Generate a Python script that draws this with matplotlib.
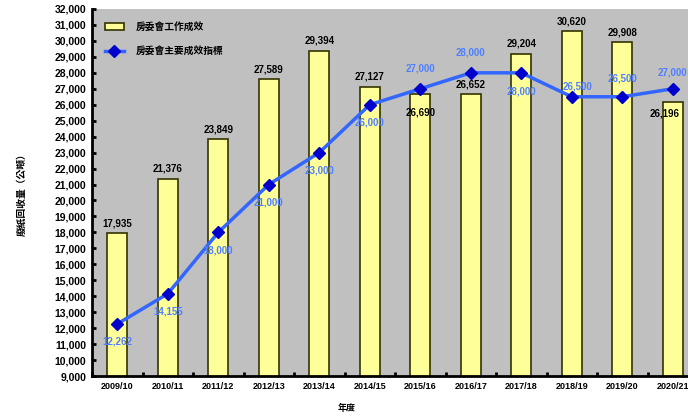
import numpy as np
import matplotlib.pyplot as plt
from matplotlib.ticker import FuncFormatter, MultipleLocator

plt.rcParams["font.family"] = ["Liberation Sans", "Noto Sans CJK TC", "DejaVu Sans"]
plt.rcParams["font.weight"] = "bold"

years = ["2009/10", "2010/11", "2011/12", "2012/13", "2013/14", "2014/15",
         "2015/16", "2016/17", "2017/18", "2018/19", "2019/20", "2020/21"]
actual = [17935, 21376, 23849, 27589, 29394, 27127, 26690, 26652, 29204, 30620, 29908, 26196]
target = [12262, 14155, 18000, 21000, 23000, 26000, 27000, 28000, 28000, 26500, 26500, 27000]

# label offsets in pixels (dx, dy)
bar_off = [(0, 5)] * 6 + [(0, -24), (0, 5), (0, 5), (0, 5), (0, 5), (-8, -17)]
line_off = [(0, -23), (0, -23), (0, -23), (0, -23), (0, -23), (0, -23),
            (0, 15), (0, 15), (0, -24), (6, 5), (0, 13), (0, 11)]

fig = plt.figure(figsize=(6.88, 4.12), dpi=100)
ax = fig.add_axes([92 / 688, 36 / 412, 606 / 688, 367 / 412])
ax.set_facecolor("#c0c0c0")

x = np.arange(len(years))
bars = ax.bar(x, actual, width=0.4, color="#ffff99", edgecolor="#333300", linewidth=1.2,
              label="房委會工作成效", zorder=2)
line, = ax.plot(x, target, color="#3366ff", lw=2.5, marker="D", ms=6, mfc="#0000cc",
                mec="#0000cc", label="房委會主要成效指標", zorder=3)

for i, v in enumerate(actual):
    ax.annotate(f"{v:,}", (x[i], v), xytext=bar_off[i], textcoords="offset pixels",
                ha="center", va="bottom", fontsize=7, color="black", fontweight="bold", zorder=4)
for i, v in enumerate(target):
    ax.annotate(f"{v:,}", (x[i], v), xytext=line_off[i], textcoords="offset pixels",
                ha="center", va="bottom", fontsize=7, color="#4f7fff", fontweight="bold", zorder=4)

ax.set_xlim(-0.5, len(years) - 0.5)
ax.set_ylim(9000, 32000)
ax.yaxis.set_major_locator(MultipleLocator(1000))
ax.yaxis.set_major_formatter(FuncFormatter(lambda v, p: f"{int(v):,}"))
ax.set_xticks(x)
ax.set_xticklabels(years)
ax.set_xticks(np.arange(len(years) + 1) - 0.5, minor=True)
ax.tick_params(axis="x", which="major", length=0, labelsize=6.5, pad=4)
ax.tick_params(axis="x", which="minor", direction="in", length=3, width=2)
ax.tick_params(axis="y", direction="in", length=3, width=2, labelsize=7.5, pad=4)

for s in ["top", "right"]:
    ax.spines[s].set_visible(False)
ax.spines["left"].set_linewidth(2)
ax.spines["bottom"].set_linewidth(2)

ax.set_ylabel("廢紙回收量（公噸）", fontsize=7, fontweight="bold", labelpad=20,
              family=["Noto Sans CJK TC", "DejaVu Sans"])
ax.set_xlabel("年度", fontsize=6.5, fontweight="bold",
              family=["Noto Sans CJK TC", "DejaVu Sans"])
ax.xaxis.set_label_coords(255 / 606, -0.075)

ax.legend(handles=[bars, line], loc="upper left", frameon=False, handlelength=2,
          borderaxespad=0.9, labelspacing=1.5, handletextpad=1.2,
          prop={"family": ["Noto Sans CJK TC", "DejaVu Sans"], "weight": "bold", "size": 7})

fig.savefig("out.png", dpi=100)
